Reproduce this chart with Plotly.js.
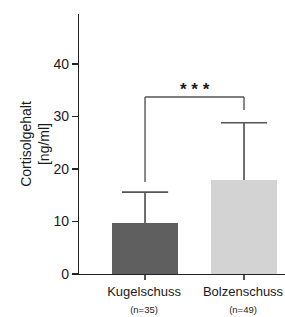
<!DOCTYPE html>
<html>
<head>
<meta charset="utf-8">
<script src="https://cdn.plot.ly/plotly-3.0.1.min.js"></script>
<style>html,body{margin:0;padding:0;background:#fff;}#chart{width:285px;height:317px;}</style>
</head>
<body>
<div id="chart"></div>
<script>
const categories = ["Kugelschuss", "Bolzenschuss"];
const groupSizes = ["(n=35)", "(n=49)"];
const means = [9.7, 17.9];
const errorsUp = [5.9, 10.9];
const barColors = ["#5f5f5f", "#d3d3d3"];
const yTicks = [0, 10, 20, 30, 40, 50];
const bracketTop = 33.7;
const bracketLegEnds = [17.5, 31.2];
const significance = "* * *";

const tickText = categories.map((c, i) => c + "<br><span style='font-size:9.5px'>" + groupSizes[i] + "</span>");
const upper = means.map((m, i) => m + errorsUp[i]);

const barTrace = {
  type: "bar",
  x: categories,
  y: means,
  width: 0.667,
  marker: {color: barColors, line: {width: 0}},
  hoverinfo: "none"
};

const stemX = [], stemY = [];
categories.forEach((c, i) => { stemX.push(c, c, null); stemY.push(means[i], upper[i], null); });
const stemTrace = {
  type: "scatter", mode: "lines", x: stemX, y: stemY,
  line: {color: "#555555", width: 1.7}, hoverinfo: "none", cliponaxis: false
};
const capTrace = {
  type: "scatter", mode: "markers", x: categories, y: upper,
  marker: {symbol: "line-ew-open", size: 33, color: "#555555", line: {color: "#555555", width: 1.7}},
  hoverinfo: "none", cliponaxis: false
};

const shapes = [
  {type: "line", xref: "x", yref: "y", x0: 0, x1: 1, y0: bracketTop, y1: bracketTop, line: {color: "#555555", width: 1.4}},
  {type: "line", xref: "x", yref: "y", x0: 0, x1: 0, y0: bracketTop, y1: bracketLegEnds[0], line: {color: "#555555", width: 1.4}},
  {type: "line", xref: "x", yref: "y", x0: 1, x1: 1, y0: bracketTop, y1: bracketLegEnds[1], line: {color: "#555555", width: 1.4}}
];

const layout = {
  width: 285, height: 317,
  margin: {l: 79, r: 0, t: 14, b: 43},
  paper_bgcolor: "#ffffff", plot_bgcolor: "#ffffff",
  font: {family: "Liberation Sans, Arial, sans-serif", color: "#1a1a1a", size: 14},
  showlegend: false,
  bargap: 0,
  xaxis: {
    type: "category", range: [-0.667, 1.414],
    tickmode: "array", tickvals: categories, ticktext: tickText,
    ticks: "outside", ticklen: 5, tickwidth: 1.2, tickcolor: "#555555",
    ticklabelshift: -1,
    showline: true, linecolor: "#222222", linewidth: 1.2,
    showgrid: false, zeroline: false,
    tickfont: {size: 13, color: "#1a1a1a"}, fixedrange: true
  },
  yaxis: {
    range: [0, 49.5], tickmode: "array", tickvals: yTicks,
    ticks: "outside", ticklen: 6, tickwidth: 1.2, tickcolor: "#222222",
    showline: true, linecolor: "#222222", linewidth: 1.2,
    showgrid: false, zeroline: false,
    tickfont: {size: 14, color: "#1a1a1a"},
    title: {text: "Cortisolgehalt<br>[ng/ml]", font: {size: 14, color: "#1a1a1a"}, standoff: 0},
    fixedrange: true
  },
  shapes: shapes,
  annotations: [
    {xref: "x", yref: "y", x: 0.5, y: bracketTop, text: "<b>" + significance + "</b>", showarrow: false, yanchor: "bottom", yshift: -4, font: {size: 17, color: "#1a1a1a"}}
  ]
};

Plotly.newPlot("chart", [barTrace, stemTrace, capTrace], layout, {displayModeBar: false, staticPlot: true});
</script>
</body>
</html>
